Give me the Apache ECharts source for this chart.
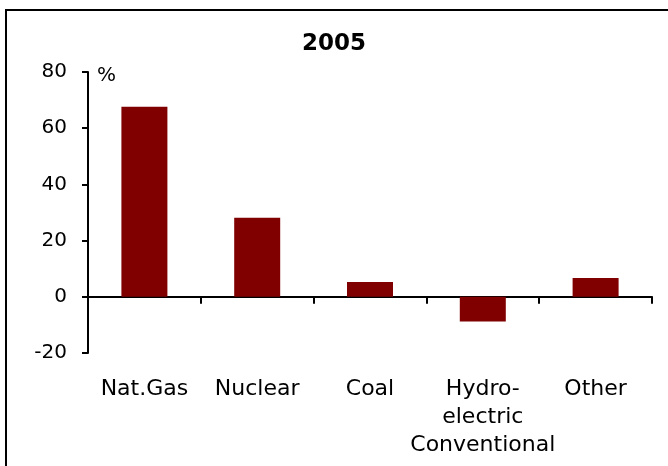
<!DOCTYPE html>
<html>
<head>
    <meta charset="utf-8">
    <script src="https://cdn.jsdelivr.net/npm/echarts@6/dist/echarts.min.js"></script>
    <style>
        body { margin: 0; }
        #chart {
            width: 668px;
            height: 466px;
        }
        #frame {
            position: absolute;
            left: 5px;
            top: 9px;
            width: 700px;
            height: 500px;
            border-left: 2px solid #000;
            border-top: 2px solid #000;
            pointer-events: none;
        }
    </style>
</head>
<body>
<div id="chart"></div>
<div id="frame"></div>
<script>
    const categories = ['Nat.Gas', 'Nuclear', 'Coal', 'Hydro-\nelectric\nConventional', 'Other']
    const values = [67.6, 28.1, 5.3, -8.8, 6.7]
    const yMin = -20
    const yMax = 80
    const yStep = 20

    const chart = echarts.init(document.getElementById('chart'))
    const font = 'DejaVu Sans, Verdana, sans-serif'
    const option = {
        animation: false,
        title: {
            text: '2005',
            left: 'center',
            top: 28,
            textStyle: { fontFamily: font, fontSize: 23, fontWeight: 'bold', color: '#000' }
        },
        graphic: [{
            type: 'text',
            left: 97,
            top: 66,
            style: { text: '%', fontFamily: font, fontSize: 20, fill: '#000' }
        }],
        grid: { left: 88, right: 16, top: 72, bottom: 113, containLabel: false, outerBoundsMode: 'none' },
        xAxis: {
            type: 'category',
            data: categories,
            boundaryGap: true,
            axisLine: { onZero: true, lineStyle: { color: '#000', width: 2 } },
            axisTick: { show: true, length: 7, lineStyle: { color: '#000', width: 2 } },
            axisLabel: {
                margin: 22,
                interval: 0,
                fontFamily: font,
                fontSize: 22,
                lineHeight: 28,
                color: '#000'
            },
            splitLine: { show: false }
        },
        yAxis: {
            type: 'value',
            min: yMin,
            max: yMax,
            interval: yStep,
            axisLine: { show: true, lineStyle: { color: '#000', width: 2 } },
            axisTick: { show: true, length: 6, lineStyle: { color: '#000', width: 2 } },
            axisLabel: { margin: 21, fontFamily: font, fontSize: 20, color: '#000' },
            splitLine: { show: false }
        },
        series: [{
            type: 'bar',
            data: values,
            barWidth: 46,
            itemStyle: { color: '#800000' }
        }]
    }
    chart.setOption(option)
</script>
</body>
</html>
